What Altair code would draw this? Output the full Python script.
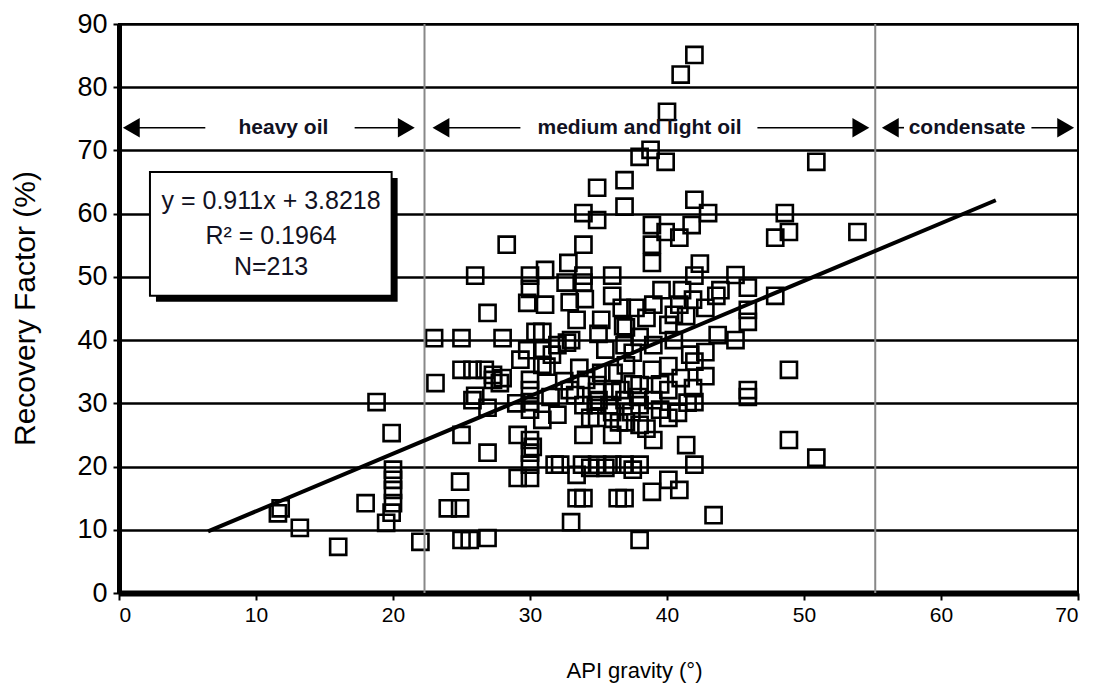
import altair as alt
import pandas as pd

# ---- data ----
api = [11.6, 11.8, 13.2, 16.0, 18.0, 18.8, 19.5, 19.9, 20.0, 20.0, 20.0, 20.0, 19.9, 22.0,
       23.1, 23.0, 25.0, 28.0, 26.9, 24.0, 24.9, 24.9, 25.0, 25.0, 25.6, 26.9, 26.9, 25.0,
       25.8, 26.7, 27.3, 27.8, 25.8, 26.9, 26.0, 26.0, 28.3, 29.1, 29.1, 29.8, 31.1, 30.0,
       30.0, 31.1, 30.4, 30.9, 29.8, 30.9, 31.2, 30.0, 30.0, 30.0, 30.0, 30.9, 30.0, 30.2,
       30.0, 30.0, 30.0, 31.8, 32.2, 30.9, 31.6, 32.0, 32.9, 32.7, 33.4, 32.6, 32.8, 33.9,
       33.9, 33.9, 33.9, 34.9, 34.9, 33.6, 32.9, 33.3, 33.9, 34.4, 34.9, 33.9, 33.8, 34.4,
       33.4, 34.9, 33.9, 33.4, 33.0, 33.0, 32.0, 34.1, 34.9, 34.9, 34.8, 35.2, 35.2, 34.0,
       36.0, 36.0, 36.7, 37.7, 36.8, 36.9, 38.0, 36.1, 36.6, 36.0, 36.9, 37.4, 36.0, 35.8,
       38.0, 38.0, 38.0, 36.0, 36.0, 36.9, 38.0, 36.4, 36.9, 38.0, 36.9, 36.9, 38.0, 38.8,
       37.0, 37.5, 37.0, 37.5, 37.0, 38.5, 39.0, 39.6, 38.9, 38.9, 38.9, 39.9, 39.9, 40.0,
       41.0, 42.0, 40.1, 39.0, 40.1, 38.9, 40.1, 39.5, 40.1, 39.0, 40.1, 38.9, 40.9, 40.9,
       41.8, 42.0, 42.4, 42.0, 41.1, 41.9, 40.9, 41.4, 41.7, 42.0, 41.9, 41.5, 42.0, 41.4,
       42.0, 40.5, 41.0, 40.5, 43.0, 42.8, 43.6, 43.9, 42.8, 42.8, 43.7, 45.0, 45.0, 45.9,
       45.9, 45.9, 45.9, 45.9, 47.9, 47.9, 48.6, 48.9, 48.9, 48.9, 50.9, 50.9, 53.9, 43.4,
       28.0, 27.3, 29.3, 35.5, 35.0, 37.9, 39.0, 36.5, 35.5, 37.5, 39.5, 40.8, 32.5, 31.5,
       29.0, 35.0, 38.5]
recovery = [12.6, 13.4, 10.3, 7.3, 14.2, 30.2, 11.1, 25.3, 19.5, 17.9, 16.3, 14.2, 12.7, 8.1,
            33.2, 40.3, 40.3, 40.3, 44.3, 13.4, 13.4, 17.6, 25.0, 8.4, 8.4, 8.7, 22.2, 35.3,
            35.3, 35.3, 33.7, 33.2, 30.5, 29.3, 31.2, 50.2, 55.1, 25.0, 18.2, 45.9, 45.6, 50.2,
            48.1, 51.1, 41.3, 41.3, 38.4, 38.4, 35.8, 33.7, 32.1, 30.2, 29.0, 27.4, 24.2, 23.1,
            22.2, 20.3, 18.2, 20.3, 20.3, 36.1, 37.7, 28.2, 46.0, 39.6, 43.2, 49.1, 52.2, 49.1,
            50.2, 55.1, 60.1, 59.0, 64.1, 35.6, 32.1, 31.3, 29.7, 27.7, 27.7, 25.0, 20.3, 19.8,
            18.7, 20.3, 15.0, 15.0, 11.2, 40.0, 39.2, 33.7, 32.9, 31.8, 29.7, 34.8, 43.2, 46.5,
            50.2, 47.0, 45.1, 45.1, 42.2, 39.2, 40.5, 34.8, 32.1, 31.8, 30.5, 28.6, 28.6, 29.7,
            32.9, 29.7, 26.6, 25.0, 20.3, 20.3, 20.3, 15.0, 15.0, 8.4, 61.1, 65.3, 69.0, 70.1,
            42.0, 38.0, 36.0, 33.0, 27.0, 26.0, 45.6, 47.9, 52.2, 55.1, 58.2, 57.1, 68.2, 76.1,
            82.0, 85.1, 42.4, 39.2, 35.9, 35.3, 32.1, 29.0, 27.7, 24.2, 17.9, 16.0, 16.3, 56.2,
            58.2, 62.2, 52.1, 50.2, 47.9, 46.4, 45.6, 43.8, 37.7, 36.6, 32.4, 30.1, 30.2, 23.4,
            20.3, 40.0, 34.0, 44.0, 60.1, 45.1, 47.0, 47.9, 38.1, 34.3, 40.8, 40.0, 50.3, 48.3,
            44.8, 42.9, 32.1, 31.0, 47.0, 56.2, 60.1, 57.1, 35.3, 24.2, 21.4, 68.2, 57.1, 12.3,
            34.0, 34.5, 36.9, 38.5, 30.5, 31.0, 30.5, 27.0, 19.8, 19.5, 33.0, 28.5, 33.5, 31.0,
            30.0, 41.0, 43.5]

slope = 0.911
intercept = 3.8218
fit_x = [6.5, 64.0]

boundaries = [22.3, 55.2]

box_x = [2.26, 19.9]
box_y = [47.0, 66.6]
box_text_x = [11.1, 11.1, 11.1]
box_text_y = [62.0, 56.4, 51.6]
box_lines = ["y = 0.911x + 3.8218", "R² = 0.1964", "N=213"]

arrow_y = 73.6
region_labels = ["heavy oil", "medium and light oil", "condensate"]
region_label_x = [12.0, 38.0, 61.9]
seg_start = [0.9, 17.2, 23.5, 46.6, 56.3, 66.6]
seg_end = [6.3, 20.97, 29.3, 54.15, 57.3, 69.1]
head_left_x = [0.9, 23.5, 56.3]
head_right_x = [20.97, 54.15, 69.1]

# ---- tables ----
pts = pd.DataFrame({"api": api, "rf": recovery})
fit = pd.DataFrame({"api": fit_x, "rf": [slope * v + intercept for v in fit_x]})
bnd = pd.DataFrame({"api": boundaries})
box = pd.DataFrame({"x": [box_x[0]], "x2": [box_x[1]], "y": [box_y[0]], "y2": [box_y[1]]})
boxtxt = pd.DataFrame({"x": box_text_x, "y": box_text_y, "t": box_lines})
segs = pd.DataFrame({"x": seg_start, "x2": seg_end, "y": [arrow_y] * len(seg_start)})
hl = pd.DataFrame({"x": head_left_x, "y": [arrow_y] * 3})
hr = pd.DataFrame({"x": head_right_x, "y": [arrow_y] * 3})
lab = pd.DataFrame({"x": region_label_x, "y": [arrow_y] * 3, "t": region_labels})

FONT = "Liberation Sans Narrow, Arial Narrow, Liberation Sans, Arial"
xs = alt.Scale(domain=[0, 70], nice=False)
ys = alt.Scale(domain=[0, 90], nice=False)

x_axis = alt.Axis(values=list(range(0, 71, 10)), title="API gravity (°)", grid=False,
                  domainColor="black", domainWidth=6, tickColor="black", tickSize=7, tickWidth=2,
                  labelFont=FONT, labelFontSize=21, labelColor="black", labelPadding=4,
                  titleFont=FONT, titleFontSize=22, titleFontWeight="normal", titleColor="black",
                  titleX=515, titleY=77, titleBaseline="middle", titleAnchor="middle")
y_axis = alt.Axis(values=list(range(0, 91, 10)), title="Recovery Factor (%)", grid=True,
                  gridColor="black", gridWidth=2.5, gridOpacity=1,
                  domainColor="black", domainWidth=5, tickColor="black", tickSize=6, tickWidth=2,
                  labelFont=FONT, labelFontSize=27, labelColor="black", labelPadding=6,
                  titleFont="Liberation Sans, Arial", titleFontSize=30, titleFontWeight="normal",
                  titleColor="black", titleAngle=-90, titleX=-94, titleY=284,
                  titleBaseline="middle", titleAlign="center")

base_pts = alt.Chart(pts).mark_point(shape="square", filled=False, size=260, strokeWidth=2.6,
                                     color="black", opacity=1).encode(
    x=alt.X("api:Q", scale=xs, axis=x_axis),
    y=alt.Y("rf:Q", scale=ys, axis=y_axis),
)

vlines = alt.Chart(bnd).mark_rule(color="#888888", strokeWidth=2).encode(
    x=alt.X("api:Q", scale=xs)
)

fit_line = alt.Chart(fit).mark_line(color="black", strokeWidth=4).encode(
    x=alt.X("api:Q", scale=xs), y=alt.Y("rf:Q", scale=ys)
)

shadow = alt.Chart(box).mark_rect(color="black", xOffset=6, yOffset=6, x2Offset=6, y2Offset=6).encode(
    x=alt.X("x:Q", scale=xs), x2="x2:Q", y=alt.Y("y:Q", scale=ys), y2="y2:Q"
)
panel = alt.Chart(box).mark_rect(fill="white", stroke="black", strokeWidth=2).encode(
    x=alt.X("x:Q", scale=xs), x2="x2:Q", y=alt.Y("y:Q", scale=ys), y2="y2:Q"
)
panel_text = alt.Chart(boxtxt).mark_text(font="Liberation Sans, Arial", fontSize=25,
                                         color="#111122", align="center", baseline="middle").encode(
    x=alt.X("x:Q", scale=xs), y=alt.Y("y:Q", scale=ys), text="t:N"
)

arrow_lines = alt.Chart(segs).mark_rule(color="black", strokeWidth=1.6).encode(
    x=alt.X("x:Q", scale=xs), x2="x2:Q", y=alt.Y("y:Q", scale=ys)
)
heads_l = alt.Chart(hl).mark_point(shape="triangle-left", filled=True, size=380,
                                   color="black", opacity=1).encode(
    x=alt.X("x:Q", scale=xs), y=alt.Y("y:Q", scale=ys)
)
heads_r = alt.Chart(hr).mark_point(shape="triangle-right", filled=True, size=380,
                                   color="black", opacity=1).encode(
    x=alt.X("x:Q", scale=xs), y=alt.Y("y:Q", scale=ys)
)
labels = alt.Chart(lab).mark_text(font="Liberation Sans, Arial", fontSize=21, fontWeight="bold",
                                  color="#111122", align="center", baseline="middle").encode(
    x=alt.X("x:Q", scale=xs), y=alt.Y("y:Q", scale=ys), text="t:N"
)

chart = alt.layer(
    base_pts, vlines, fit_line, shadow, panel, panel_text,
    arrow_lines, heads_l, heads_r, labels
).properties(
    width=959, height=569,
    autosize=alt.AutoSizeParams(type="none"),
    padding={"left": 119, "top": 24, "right": 19, "bottom": 103},
    background="white",
).configure_view(
    stroke="black", strokeWidth=2
)

chart.save("out.html", embed_options={"renderer": "svg", "actions": False})
